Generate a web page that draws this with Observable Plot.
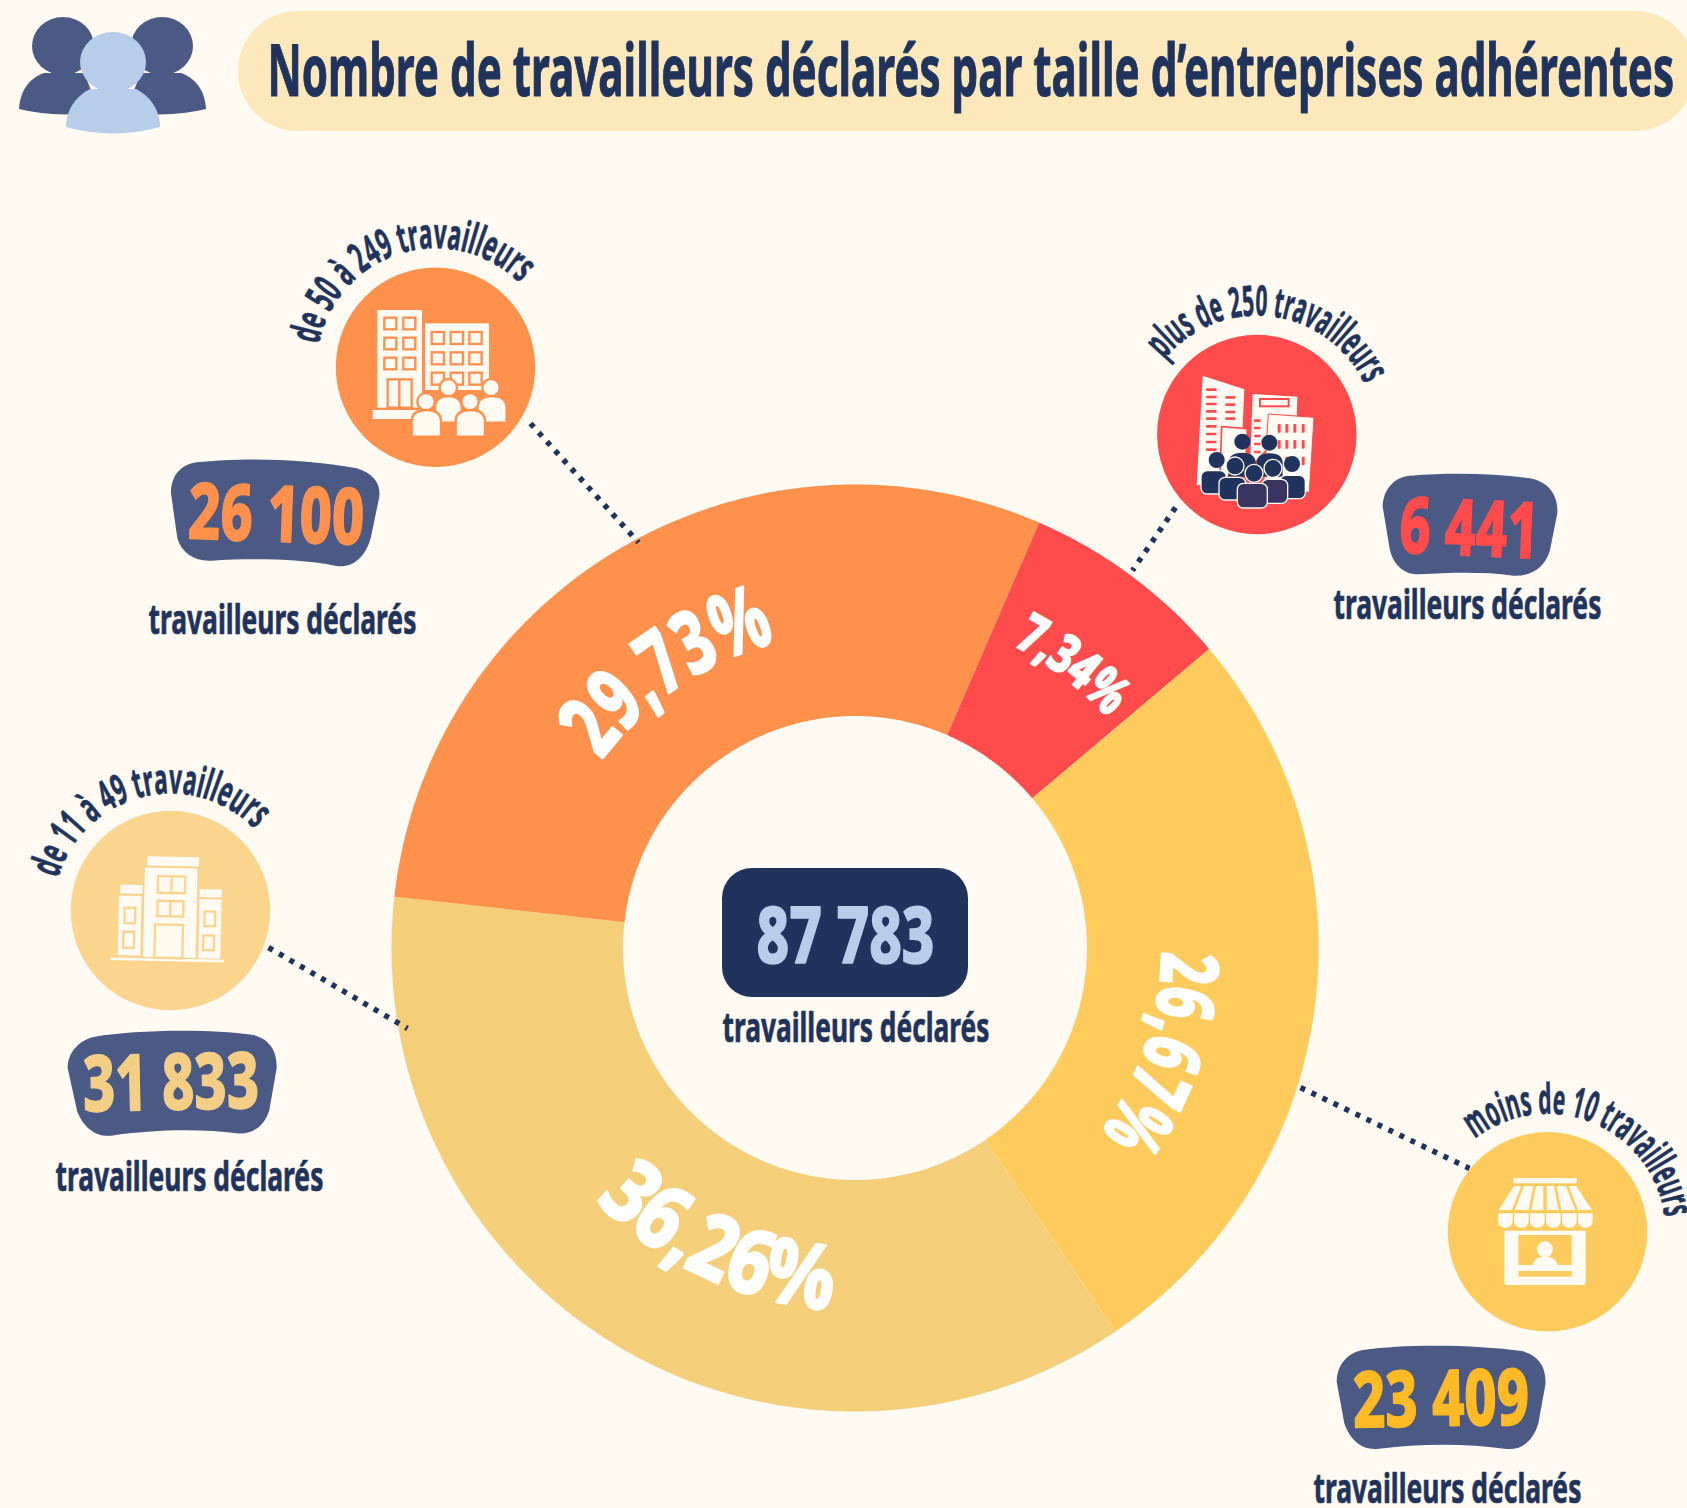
<!DOCTYPE html>
<html lang="fr">
<head>
<meta charset="utf-8">
<title>Nombre de travailleurs déclarés par taille d’entreprises adhérentes</title>
<script src="https://cdn.jsdelivr.net/npm/d3@7"></script>
<script src="https://cdn.jsdelivr.net/npm/@observablehq/plot@0.6"></script>
<style>
html,body{margin:0;padding:0;background:#FFFAF2;}
svg{display:block;}
</style>
</head>
<body>
<div id="chart"></div>
<script>
// ---- data ----
const titleText = "Nombre de travailleurs déclarés par taille d’entreprises adhérentes";
const categories = ["plus de 250 travailleurs","moins de 10 travailleurs","de 11 à 49 travailleurs","de 50 à 249 travailleurs"];
const workers = [6441, 23409, 31833, 26100];
const workerLabels = ["6 441","23 409","31 833","26 100"];
const shares = ["7,34%","26,67%","36,26%","29,73%"];
const totalLabel = "87 783";
const captionText = "travailleurs déclarés";

// ---- styles and layout ----
const W = 1687, H = 1508;
const FONT = "'Noto Sans', sans-serif";
const NAVY = "#1F335C", SLATE = "#4A5A85", BLUE = "#B7CDEA", BG = "#FFFAF2";
const sliceColors = ["#FF4B4B","#FFCB5C","#F5CE7A","#FF914D"];
const circleColors = ["#FF4B4B","#FFCB5C","#FBD48D","#FF914D"];
const numberColors = ["#FF4B4B","#FFBA26","#F5CE85","#FF914D"];
const CX = 855, CY = 948, R0 = 232, R1 = 463.5, START = 23.4;

const measure = document.createElement("canvas").getContext("2d");
let uid = 0;
// straight text condensed to a measured width
function label(str, x, y, w, size, color, rotate = 0, weight = 700, thick = 0.7) {
  return Plot.text([str], {
    x, y, rotate, fontSize: size, fontWeight: weight, fontFamily: FONT, fill: color,
    stroke: color, strokeWidth: thick,
    textAnchor: "start", lineAnchor: "bottom",
    render(i, s, v, d, c, next) {
      const g = next(i, s, v, d, c);
      measure.font = `${weight} ${size}px ${FONT}`;
      const k = w / measure.measureText(str).width;
      g.querySelectorAll("text").forEach(t => {
        t.setAttribute("transform", `${t.getAttribute("transform") || ""} scale(${k},1)`);
      });
      return g;
    }
  });
}
// text set on an arc; angles in degrees, clockwise from twelve o'clock
function arcLabel(str, cx, cy, r, a0, a1, size, color, weight = 700, thick = 0.6) {
  const id = "arc" + (uid++);
  const pt = a => [cx + r * Math.sin(a * Math.PI / 180), cy - r * Math.cos(a * Math.PI / 180)];
  const [x0, y0] = pt(a0), [x1, y1] = pt(a1);
  const len = Math.abs(a1 - a0) * Math.PI / 180 * r;
  const dPath = `M${x0},${y0}A${r},${r} 0 ${Math.abs(a1 - a0) > 180 ? 1 : 0} ${a1 > a0 ? 1 : 0} ${x1},${y1}`;
  return Plot.text([str], {
    x: cx, y: cy, fontSize: size, fontWeight: weight, fontFamily: FONT, fill: color,
    stroke: color, strokeWidth: thick,
    textAnchor: "start", lineAnchor: "bottom",
    render(i, s, v, d, c, next) {
      const g = next(i, s, v, d, c);
      const ns = "http://www.w3.org/2000/svg";
      const p = document.createElementNS(ns, "path");
      p.setAttribute("id", id); p.setAttribute("d", dPath); p.setAttribute("fill", "none");
      p.setAttribute("stroke", "none");
      g.appendChild(p);
      const t = g.querySelector("text");
      t.removeAttribute("transform");
      t.removeAttribute("y");
      const tp = document.createElementNS(ns, "textPath");
      tp.setAttribute("href", "#" + id);
      tp.setAttribute("textLength", len);
      tp.setAttribute("lengthAdjust", "spacingAndGlyphs");
      tp.textContent = str;
      t.textContent = "";
      t.appendChild(tp);
      return g;
    }
  });
}
// decoration drawn in the coordinates of a 3x crop
function art(x0, y0, k, markup) {
  return () => {
    const g = document.createElementNS("http://www.w3.org/2000/svg", "g");
    g.setAttribute("transform", `translate(${x0},${y0}) scale(${k})`);
    g.innerHTML = markup;
    return g;
  };
}

// ---- slices, sampled along the ring from the values ----
const pie = d3.pie().sort(null).startAngle(START * Math.PI / 180).endAngle((START + 360) * Math.PI / 180)(workers);
const ringRows = pie.flatMap((p, k) => {
  const n = Math.ceil((p.endAngle - p.startAngle) * 180 / Math.PI * 3);
  return d3.range(n + 1).map(j => ({ cat: categories[k], a: p.startAngle + (p.endAngle - p.startAngle) * j / n }));
});

// ---- icons ----
const people = `
<ellipse cx="63" cy="46" rx="31" ry="29" fill="${SLATE}"/>
<path d="M19,109C20,90 30,78 44,73L84,73L100,112Q55,118 19,109Z" fill="${SLATE}"/>
<ellipse cx="162" cy="46" rx="31" ry="29" fill="${SLATE}"/>
<path d="M206,109C205,90 195,78 181,73L141,73L125,112Q170,118 206,109Z" fill="${SLATE}"/>
<ellipse cx="113" cy="62" rx="33" ry="30" fill="${BLUE}"/>
<path d="M66,127C66,108 78,95 90,89L136,89C150,96 160,110 160,127Q113,140 66,127Z" fill="${BLUE}"/>`;

const rectsOf = (xs, ys, w, h, attrs) => xs.flatMap(x => ys.map(y => `<rect x="${x}" y="${y}" width="${w}" height="${h}" ${attrs}/>`)).join("");
const OR = "#FF914D";
const person = (hx, hy, x1, x2, top, bot) => `<circle cx="${hx}" cy="${hy}" r="26" fill="${BG}" stroke="${OR}" stroke-width="7"/>
<path d="M${x1},${bot}V${top + 35}Q${x1},${top} ${(x1 + x2) / 2},${top}Q${x2},${top} ${x2},${top + 35}V${bot}Z" fill="${BG}" stroke="${OR}" stroke-width="7"/>`;
const iconOrange = `
<rect x="712" y="300" width="134" height="293" fill="${BG}"/>
${rectsOf([733, 790], [323, 383, 443], 36, 35, `fill="${BG}" stroke="${OR}" stroke-width="7"`)}
<rect x="743" y="508" width="72" height="85" fill="${BG}" stroke="${OR}" stroke-width="7"/>
<path d="M778,508V593" stroke="${OR}" stroke-width="7"/>
<rect x="698" y="600" width="135" height="27" fill="${BG}"/>
<rect x="855" y="340" width="192" height="200" fill="${BG}"/>
${rectsOf([875, 932, 988], [366, 427, 488], 37, 36, `fill="${BG}" stroke="${OR}" stroke-width="7"`)}
${person(925, 533, 885, 965, 558, 638)}
${person(1053, 533, 1012, 1100, 558, 638)}
${person(858, 575, 815, 903, 600, 680)}
${person(990, 575, 947, 1035, 600, 680)}`;

const LY = "#FBD48D";
const iconLight = `<g transform="rotate(1.2 510 450)">
<rect x="438" y="290" width="156" height="28" fill="${BG}"/>
<rect x="432" y="324" width="158" height="268" fill="${BG}"/>
<rect x="360" y="377" width="66" height="26" fill="${BG}"/>
<rect x="356" y="410" width="68" height="178" fill="${BG}"/>
<rect x="598" y="385" width="66" height="24" fill="${BG}"/>
<rect x="598" y="415" width="66" height="178" fill="${BG}"/>
<path d="M335,600H675" stroke="${BG}" stroke-width="8"/>
<rect x="472" y="349" width="82" height="50" fill="none" stroke="${LY}" stroke-width="7"/>
<path d="M513,349V399" stroke="${LY}" stroke-width="7"/>
<rect x="472" y="423" width="78" height="46" fill="none" stroke="${LY}" stroke-width="7"/>
<path d="M511,423V469" stroke="${LY}" stroke-width="7"/>
<rect x="466" y="494" width="84" height="100" fill="none" stroke="${LY}" stroke-width="7"/>
<rect x="374" y="446" width="32" height="46" fill="none" stroke="${LY}" stroke-width="7"/>
<rect x="372" y="518" width="32" height="48" fill="none" stroke="${LY}" stroke-width="7"/>
<rect x="614" y="452" width="32" height="44" fill="none" stroke="${LY}" stroke-width="7"/>
<rect x="612" y="524" width="32" height="44" fill="none" stroke="${LY}" stroke-width="7"/>
</g>`;

const YL = "#FFCB5C";
const scallops = d3.range(6).map(k => { const x = 652 + k * 48; return `<path d="M${x + 2},460H${x + 46}V482A22,22 0 0 1 ${x + 2},482Z" fill="${BG}"/>`; }).join("");
const iconYellow = `
<rect x="700" y="354" width="190" height="16" fill="${BG}"/>
<path d="M702,378L656,450H696L724,378Z M732,378L704,450H746L760,378Z M768,378L754,450H790V378Z M800,378V450H836L822,378Z M830,378L844,450H886L858,378Z M866,378L894,450H936L888,378Z" fill="${BG}"/>
${scallops}
<path d="M673,512H917V665Q917,675 907,675H683Q673,675 673,665Z" fill="${BG}"/>
<rect x="715" y="525" width="160" height="90" fill="${YL}"/>
<rect x="715" y="633" width="160" height="17" fill="${YL}"/>
<circle cx="795" cy="568" r="24" fill="${BG}"/>
<path d="M757,615Q762,590 795,590Q828,590 833,615Z" fill="${BG}"/>`;

const RD = "#FF4B4B";
const stripes = (x, ys, w) => ys.map(y => `<rect x="${x}" y="${y}" width="${w}" height="8" rx="3" fill="${RD}"/>`).join("");
const pBody = (x, y, w, h, f) => `<rect x="${x}" y="${y}" width="${w}" height="${h}" rx="18" fill="${f}" stroke="${BG}" stroke-width="4"/>`;
const pHead = (x, y, r, f) => `<circle cx="${x}" cy="${y}" r="${r}" fill="${f}"/>`;
const iconRed = `
<path d="M308,347L433,388L420,672L290,676Z" fill="${BG}"/>
${stripes(318, [385, 407, 428, 450, 472, 495, 518, 542, 565], 32)}
${stripes(376, [408, 430, 452, 472], 30)}
<path d="M458,402L592,410L590,470L450,620Z" fill="${BG}"/>
<rect x="480" y="417" width="86" height="22" fill="${BG}" stroke="${RD}" stroke-width="6"/>
${stripes(462, [478, 500, 524, 548, 572], 20)}
<path d="M365,500L442,506L436,650L360,650Z" fill="${BG}" stroke="${RD}" stroke-width="5"/>
<path d="M505,462L642,472L628,697L490,690Z" fill="${BG}" stroke="${RD}" stroke-width="3"/>
${[533, 556, 580, 605].flatMap(x => [492, 540, 590].map(y => `<rect x="${x}" y="${y}" width="9" height="26" rx="3" fill="${RD}"/>`)).join("")}
${pHead(427, 545, 24, NAVY)}${pHead(508, 548, 24, NAVY)}
<path d="M385,610Q385,578 427,578Q467,578 467,610V650H385Z M470,610Q470,580 508,580Q548,580 548,610V650H470Z" fill="${NAVY}"/>
${pHead(350, 600, 24, NAVY)}${pHead(576, 612, 24, NAVY)}
${pBody(303, 632, 76, 70, NAVY)}${pBody(540, 646, 76, 70, NAVY)}
<circle cx="405" cy="618" r="27" fill="${NAVY}" stroke="${BG}" stroke-width="4"/>
<circle cx="519" cy="625" r="27" fill="${NAVY}" stroke="${BG}" stroke-width="4"/>
${pBody(357, 652, 80, 68, NAVY)}${pBody(485, 658, 78, 72, "#3A3560")}
<circle cx="462" cy="640" r="27" fill="${NAVY}" stroke="${BG}" stroke-width="4"/>
${pBody(412, 670, 90, 74, "#3A3560")}`;

// ---- badges ----
const badges = [
  [1100, 260, "M848,740C850,680 890,650 930,647C1060,637 1180,640 1290,655C1345,665 1375,705 1372,760L1350,870C1335,925 1290,950 1240,947C1150,935 1050,938 960,943C905,945 875,905 868,860Z"],
  [1280, 1060, "M170,965C172,910 205,878 250,870C380,850 600,855 725,873C775,885 800,920 796,975L775,1090C760,1140 730,1170 680,1167C560,1150 420,1150 290,1167C245,1170 210,1140 193,1090Z"],
  [0, 760, "M203,925C203,870 245,838 285,830C400,810 620,805 760,825C805,835 832,870 830,925L808,1050C795,1095 760,1125 710,1120C600,1105 450,1110 335,1127C285,1132 250,1100 232,1055Z"],
  [140, 210, "M93,850C93,790 130,762 170,757C300,742 500,745 650,775C700,790 722,820 718,860L692,985C675,1045 635,1075 590,1068C480,1045 330,1045 215,1052C165,1055 125,1030 112,985Z"]
];

const circleLayout = [[1256.3, 434], [1547, 1231.3], [170, 910], [435, 366.7]];
const leaders = [
  { x1: 1175, y1: 507, x2: 1132, y2: 570 },
  { x1: 1300, y1: 1087, x2: 1469, y2: 1168 },
  { x1: 268, y1: 947, x2: 407, y2: 1028 },
  { x1: 530, y1: 423, x2: 638, y2: 542 }
];
const capLayout = [[1333, 618], [1313, 1502], [55, 1190], [148, 633]];
const numLayout = [[1398, 552, 139, 2.5], [1353, 1427, 176, -1], [83, 1111, 176, -1.2], [187, 538, 176, 2]];
const headArcs = [
  [1256.3, 434, 119, -51, 65, 42],
  [1547, 1231.3, 118, -38, 83, 42],
  [170, 910, 117, -74, 46, 42],
  [435, 366.7, 119, -79, 45, 42]
];
const shareArcs = [
  [CX, CY, 342, 27.5, 47.5, 54],
  [CX, CY, 306, 90.5, 127, 80],
  [CX, CY, 362, 226, 184, 90],
  [CX, CY, 316, -53.5, -14.5, 88]
];

const plot = Plot.plot({
  width: W, height: H,
  margin: 0,
  x: { domain: [0, W], range: [0, W], axis: null },
  y: { domain: [0, H], range: [0, H], axis: null },
  color: { domain: categories, range: sliceColors },
  style: { background: BG, fontFamily: FONT },
  marks: [
    Plot.rect([titleText], { x1: 238, x2: 1695, y1: 11, y2: 131, rx: 60, fill: "#FDE8BB" }),
    label(titleText, 267, 95, 1407, 71, NAVY, 0, 700, 1.1),
    art(0, 0, 1, people),

    Plot.area(ringRows, {
      x1: d => CX + R0 * Math.sin(d.a), y1: d => CY - R0 * Math.cos(d.a),
      x2: d => CX + R1 * Math.sin(d.a), y2: d => CY - R1 * Math.cos(d.a),
      fill: "cat", z: "cat"
    }),
    Plot.link(leaders, { x1: "x1", y1: "y1", x2: "x2", y2: "y2", stroke: NAVY, strokeWidth: 5.5, strokeOpacity: 1, strokeDasharray: "5 7.2" }),

    ...circleLayout.map(([x, y], k) => Plot.dot([categories[k]], { x, y, r: 99.7, fill: circleColors[k] })),
    art(1100, 260, 1 / 3, iconRed),
    art(1280, 1060, 1 / 3, iconYellow),
    art(0, 760, 1 / 3, iconLight),
    art(140, 210, 1 / 3, iconOrange),

    ...headArcs.map(([cx, cy, r, a0, a1, s], k) => arcLabel(categories[k], cx, cy, r, a0, a1, s, NAVY, 700, 0.6)),
    ...shareArcs.map(([cx, cy, r, a0, a1, s], k) => arcLabel(shares[k], cx, cy, r, a0, a1, s, "#FFFFFF", 800, 2)),

    ...badges.map(([x, y, d]) => art(x, y, 1 / 3, `<path d="${d}" fill="${SLATE}"/>`)),
    ...numLayout.map(([x, y, w, rot], k) => label(workerLabels[k], x, y, w, 78, numberColors[k], rot, 800, 1.6)),
    ...capLayout.map(([x, y]) => label(captionText, x, y, 268, 41, NAVY, 0, 700, 0.7)),

    Plot.rect([totalLabel], { x1: 722, x2: 968, y1: 868, y2: 997, rx: 30, fill: NAVY }),
    label(totalLabel, 756, 962, 178, 78, BLUE, 0, 800, 1.6),
    label(captionText, 722, 1041, 267, 41, NAVY, 0, 700, 0.7)
  ]
});
document.getElementById("chart").appendChild(plot);
</script>
</body>
</html>
